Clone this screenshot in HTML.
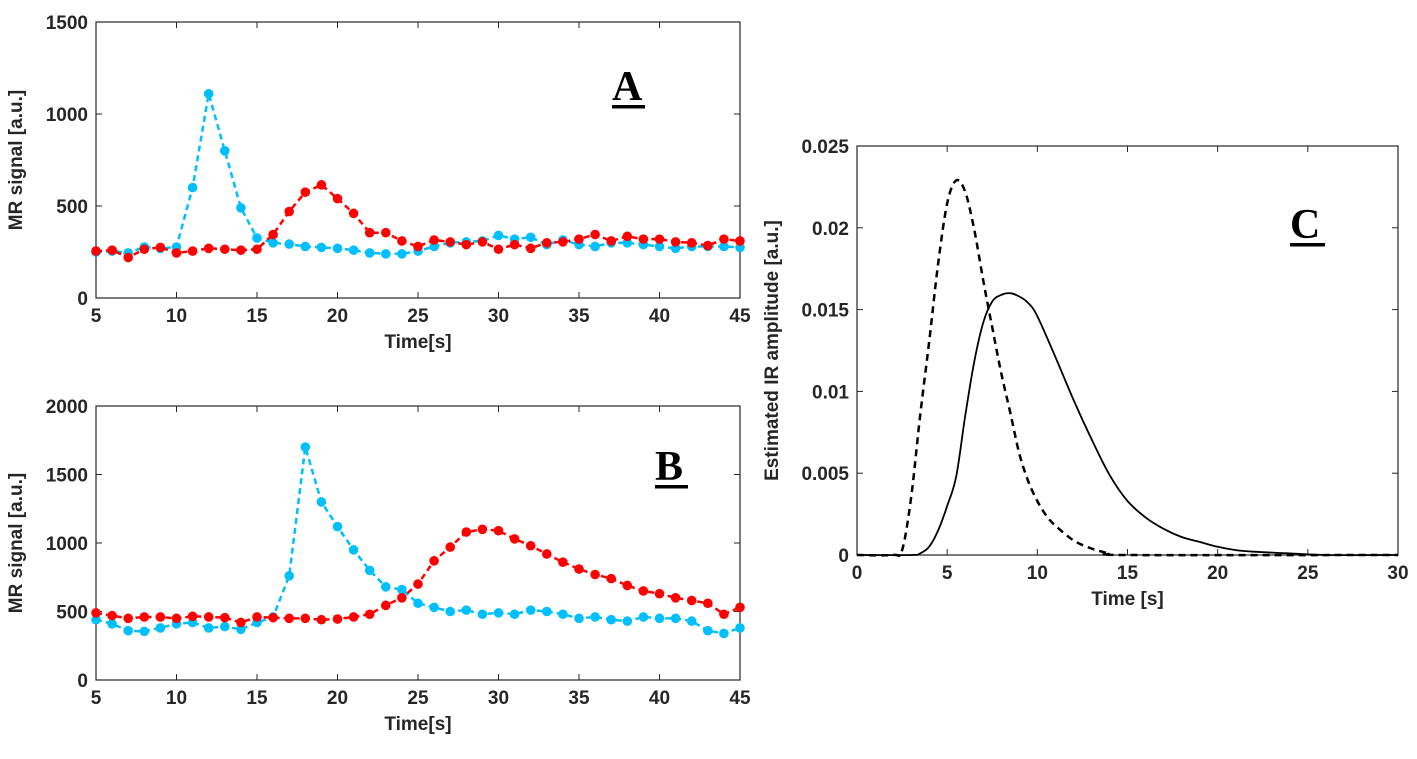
<!DOCTYPE html>
<html><head><meta charset="utf-8"><style>
body{margin:0;background:#fff}
svg text{font-family:"Liberation Sans",sans-serif;font-weight:bold;fill:#262626}
.lbl{font-family:"Liberation Serif",serif !important;fill:#000 !important;font-size:42px}
</style></head><body>
<svg id="fig" width="1417" height="754" viewBox="0 0 1417 754" xmlns="http://www.w3.org/2000/svg"></svg>
<script>
const timeA = [];
for (let t = 5; t <= 45; t++) timeA.push(t);
const blueA = [250,255,245,277,270,277,600,1110,800,490,326,300,293,280,275,270,260,245,240,240,255,280,300,305,310,340,320,330,290,315,290,280,300,300,290,280,270,280,280,280,275];
const redA = [255,260,220,265,275,245,255,270,265,260,265,345,470,575,615,540,460,355,355,310,280,315,305,290,305,265,290,270,300,305,320,345,310,335,320,320,305,300,285,320,310];
const redB = [490,470,450,460,460,450,465,460,455,420,460,455,450,450,440,445,460,480,545,600,700,870,970,1080,1100,1090,1030,980,920,860,810,770,740,690,650,630,600,580,560,480,530];
const blueB = [440,410,360,355,380,410,420,380,390,370,420,460,760,1700,1300,1120,950,800,680,660,560,530,500,510,480,490,480,510,500,480,450,460,440,430,460,450,450,430,360,340,380];
const timeDashed = [0,2,2.5,3,3.5,4,4.5,5,5.5,6,6.5,7,7.5,8,8.5,9,9.5,10,10.5,11,12,13,14,15,30];
const irDashed = [0,0,0.0003,0.0035,0.0085,0.013,0.0178,0.0215,0.0229,0.0222,0.0199,0.0168,0.0139,0.0111,0.0087,0.0062,0.0045,0.0033,0.0024,0.0018,0.0009,0.0004,0.0001,0,0];
const timeSolid = [0,3,3.5,4,4.5,5,5.5,6,6.5,7,7.5,8,8.5,9,9.5,10,11,12,13,14,15,16,17,18,19,20,21,22,24,26,30];
const irSolid = [0,0,0.0001,0.0005,0.0015,0.003,0.0048,0.0085,0.0118,0.0142,0.0155,0.0159,0.016,0.0158,0.0154,0.0146,0.0121,0.0095,0.0071,0.0049,0.0033,0.0023,0.0016,0.0011,0.0008,0.0005,0.0003,0.0002,0.0001,0,0];
const xTicksAB = [5,10,15,20,25,30,35,40,45];
const yTicksA = [0,500,1000,1500];
const yTicksB = [0,500,1000,1500,2000];
const xTicksC = [0,5,10,15,20,25,30];
const yTicksC = [0,0.005,0.01,0.015,0.02,0.025];
const yTickLabelsC = ['0','0.005','0.01','0.015','0.02','0.025'];

const NS = 'http://www.w3.org/2000/svg';
const svg = document.getElementById('fig');
function mk(tag, attrs, parent) {
  const e = document.createElementNS(NS, tag);
  for (const k in attrs) e.setAttribute(k, attrs[k]);
  (parent || svg).appendChild(e);
  return e;
}
function panel(name, L, R, T, B, x0, x1, y0, y1, xt, yt, ytl, xlabel, ylabel, ylx) {
  const g = mk('g', {});
  
  
  const sx = v => L + (v - x0) / (x1 - x0) * (R - L);
  const sy = v => B - (v - y0) / (y1 - y0) * (B - T);
  const box = mk('rect', {x: L, y: T, width: R - L, height: B - T, fill: 'none', stroke: '#262626', 'stroke-width': 1.2}, g);
  
  
  xt.forEach(v => {
    const x = sx(v);
    mk('line', {x1: x, x2: x, y1: B, y2: B - 6, stroke: '#262626'}, g);
    mk('line', {x1: x, x2: x, y1: T, y2: T + 6, stroke: '#262626'}, g);
    const t = mk('text', {x: x, y: B + 24, 'text-anchor': 'middle', 'font-size': 19}, g);
    t.textContent = v;
    
    
  });
  yt.forEach((v, i) => {
    const y = sy(v);
    mk('line', {x1: L, x2: L + 6, y1: y, y2: y, stroke: '#262626'}, g);
    mk('line', {x1: R, x2: R - 6, y1: y, y2: y, stroke: '#262626'}, g);
    const t = mk('text', {x: L - 8, y: y + 7, 'text-anchor': 'end', 'font-size': 19}, g);
    t.textContent = ytl ? ytl[i] : v;
    
    
  });
  const xl = mk('text', {x: (L + R) / 2, y: B + 50, 'text-anchor': 'middle', 'font-size': 19}, g);
  xl.textContent = xlabel;
  
  
  const yc = (T + B) / 2;
  const yl = mk('text', {x: ylx, y: yc, 'text-anchor': 'middle', 'font-size': 19, transform: `rotate(-90 ${ylx} ${yc})`}, g);
  yl.textContent = ylabel;
  
  
  return {g, sx, sy};
}
function smoothPath(pts) {
  let d = 'M' + pts[0][0].toFixed(1) + ',' + pts[0][1].toFixed(1);
  for (let i = 0; i < pts.length - 1; i++) {
    const p0 = pts[Math.max(0, i - 1)], p1 = pts[i], p2 = pts[i + 1], p3 = pts[Math.min(pts.length - 1, i + 2)];
    const c1x = p1[0] + (p2[0] - p0[0]) / 6, c1y = p1[1] + (p2[1] - p0[1]) / 6;
    const c2x = p2[0] - (p3[0] - p1[0]) / 6, c2y = p2[1] - (p3[1] - p1[1]) / 6;
    d += 'C' + c1x.toFixed(1) + ',' + c1y.toFixed(1) + ' ' + c2x.toFixed(1) + ',' + c2y.toFixed(1) + ' ' + p2[0].toFixed(1) + ',' + p2[1].toFixed(1);
  }
  return d;
}
function series(p, xs, ys, color, name, dash, markers, w, smooth) {
  const pts = xs.map((x, i) => [p.sx(x), p.sy(ys[i])]);
  const d = smooth ? smoothPath(pts) : pts.map((q, i) => (i ? 'L' : 'M') + q[0].toFixed(1) + ',' + q[1].toFixed(1)).join('');
  const path = mk('path', {d: d, fill: 'none', stroke: color, 'stroke-width': w, 'stroke-dasharray': dash}, p.g);
  
  
  if (markers) xs.forEach((x, i) => {
    const c = mk('circle', {cx: p.sx(x), cy: p.sy(ys[i]), r: 4.8, fill: color}, p.g);
    
    
  });
}
function letter(txt, x, y, w) {
  const t = mk('text', {x: x, y: y, class: 'lbl'});
  t.textContent = txt;
  
  
  mk('rect', {x: x, y: y + 5, width: w, height: 3.5, fill: '#000'});
}
const blue = '#00BFFF', red = '#FF0000';
const pA = panel('panel-a', 96, 740, 22, 298, 5, 45, 0, 1500, xTicksAB, yTicksA, null, 'Time[s]', 'MR signal [a.u.]', 22);
series(pA, timeA, blueA, blue, 'blue-a', '6,4', true, 2.5, false);
series(pA, timeA, redA, red, 'red-a', '6,4', true, 2.5, false);
letter('A', 612, 100, 33);
const pB = panel('panel-b', 96, 740, 406, 680, 5, 45, 0, 2000, xTicksAB, yTicksB, null, 'Time[s]', 'MR signal [a.u.]', 22);
series(pB, timeA, blueB, blue, 'blue-b', '6,4', true, 2.5, false);
series(pB, timeA, redB, red, 'red-b', '6,4', true, 2.5, false);
letter('B', 655, 480, 33);
const pC = panel('panel-c', 857, 1398, 146, 555, 0, 30, 0, 0.025, xTicksC, yTicksC, yTickLabelsC, 'Time [s]', 'Estimated IR amplitude [a.u.]', 778);
series(pC, timeDashed, irDashed, '#000', 'dashed-ir', '7,5', false, 2.5, true);
series(pC, timeSolid, irSolid, '#000', 'solid-ir', 'none', false, 1.8, true);
letter('C', 1290, 238, 35);
</script>
</body></html>
